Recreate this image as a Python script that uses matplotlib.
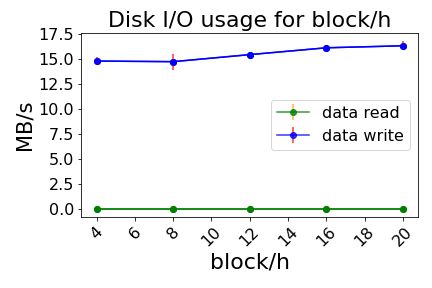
import matplotlib
matplotlib.use("Agg")
import matplotlib.pyplot as plt

blocks = [4, 8, 12, 16, 20]
read_mean = [0.0, 0.0, 0.0, 0.0, 0.0]
read_err = [0.0, 0.0, 0.0, 0.0, 0.0]
write_mean = [14.76, 14.7, 15.4, 16.08, 16.28]
write_err = [0.4, 0.8, 0.1, 0.1, 0.45]

fig, ax = plt.subplots(figsize=(6, 4), dpi=72)
ax.plot(blocks, read_mean, color="green", marker="o")
ax.plot(blocks, write_mean, color="blue", marker="o")
ax.errorbar(blocks, read_mean, yerr=read_err, color="green", ecolor="orange",
            marker="o", label="data read", alpha=0.8, markerfacecolor="green")
ax.errorbar(blocks, write_mean, yerr=write_err, color="blue", ecolor="red",
            marker="o", label="data write", alpha=0.8, markerfacecolor="blue")
ax.set_title("Disk I/O usage for block/h", fontsize=22)
ax.set_xlabel("block/h", fontsize=22)
ax.set_ylabel("MB/s", fontsize=21)
ax.tick_params(labelsize=16)
ax.set_xticks(range(4, 21, 2))
plt.setp(ax.get_xticklabels(), rotation=45)
ax.set_yticks([0, 2.5, 5, 7.5, 10, 12.5, 15, 17.5])
ax.set_ylim(-0.74, 17.54)
ax.legend(fontsize=16, loc="center right")
fig.subplots_adjust(left=0.188, right=0.968, top=0.885, bottom=0.247)
fig.savefig("out.png")
